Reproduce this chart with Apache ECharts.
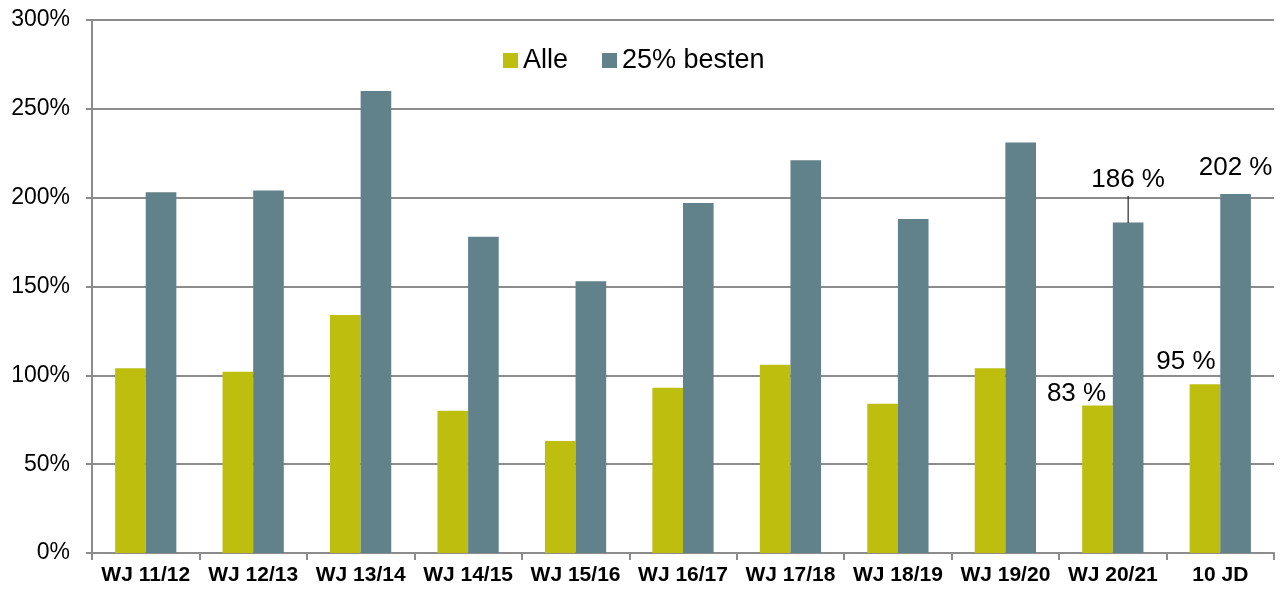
<!DOCTYPE html>
<html>
<head>
<meta charset="utf-8">
<script src="https://cdn.jsdelivr.net/npm/echarts@6/dist/echarts.min.js"></script>
<style>
  html, body { margin: 0; padding: 0; background: #fff; }
  #main { width: 1282px; height: 590px; }
</style>
</head>
<body>
<div id="main"></div>
<script>
// data
var categories = ['WJ 11/12', 'WJ 12/13', 'WJ 13/14', 'WJ 14/15', 'WJ 15/16', 'WJ 16/17', 'WJ 17/18', 'WJ 18/19', 'WJ 19/20', 'WJ 20/21', '10 JD'];
var alle = [104, 102, 134, 80, 63, 93, 106, 84, 104, 83, 95];
var besten = [203, 204, 260, 178, 153, 197, 221, 188, 231, 186, 202];
var seriesNames = ['Alle', '25% besten'];
var yTicks = [0, 50, 100, 150, 200, 250, 300];

var font = "'Liberation Sans', Arial, sans-serif";
var colAlle = '#bdbe0d';
var colBesten = '#61828a';
var gridCol = '#8c8c8c';

function labelStyle(extra) {
  var base = {
    show: true,
    position: 'top',
    fontFamily: font,
    fontSize: 26,
    color: '#000',
    formatter: function (p) { return p.value + ' %'; }
  };
  for (var k in extra) base[k] = extra[k];
  return base;
}

// only the last two categories carry labels
var alleData = alle.map(function (v, i) {
  if (i === 9) return { value: v, label: labelStyle({ offset: [-21, 6] }) };
  if (i === 10) return { value: v, label: labelStyle({ offset: [-19, -4] }) };
  return v;
});
var bestenData = besten.map(function (v, i) {
  if (i === 9) {
    // label with a short leader line under it
    return {
      value: v,
      label: labelStyle({
        distance: -1,
        formatter: function (p) { return '{t|' + p.value + ' %}\n{l|}'; },
        rich: {
          t: { fontFamily: font, fontSize: 26, color: '#000', lineHeight: 32 },
          l: { width: 1, height: 27, lineHeight: 28, backgroundColor: '#000' }
        }
      })
    };
  }
  if (i === 10) return { value: v, label: labelStyle({ offset: [0, -8] }) };
  return v;
});

var chart = echarts.init(document.getElementById('main'));
var option = {
  backgroundColor: '#fff',
  animation: false,
  textStyle: { fontFamily: font },
  grid: { left: 92, right: 8, top: 20, bottom: 37, containLabel: false },
  legend: {
    data: seriesNames,
    left: 498,
    top: 42,
    itemWidth: 15,
    itemHeight: 15,
    itemGap: 34,
    icon: 'rect',
    textStyle: { fontFamily: font, fontSize: 27, color: '#000' }
  },
  xAxis: {
    type: 'category',
    data: categories,
    axisLine: { lineStyle: { color: gridCol, width: 2 } },
    axisTick: { show: true, length: 7, lineStyle: { color: gridCol, width: 2 } },
    axisLabel: { interval: 0, fontFamily: font, fontSize: 21, fontWeight: 'bold', color: '#000', margin: 12 }
  },
  yAxis: {
    type: 'value',
    min: yTicks[0],
    max: yTicks[yTicks.length - 1],
    interval: 50,
    axisLine: { show: true, lineStyle: { color: gridCol, width: 2 } },
    axisTick: { show: true, length: 6, lineStyle: { color: gridCol, width: 2 } },
    splitLine: { lineStyle: { color: gridCol, width: 2 } },
    axisLabel: {
      fontFamily: font, fontSize: 23, color: '#000', margin: 22,
      formatter: function (v) { return v + '%'; }
    }
  },
  series: [
    {
      name: seriesNames[0],
      type: 'bar',
      data: alleData,
      barGap: '0%',
      barCategoryGap: '43%',
      itemStyle: { color: colAlle }
    },
    {
      name: seriesNames[1],
      type: 'bar',
      data: bestenData,
      barGap: '0%',
      barCategoryGap: '43%',
      itemStyle: { color: colBesten }
    }
  ]
};
option && chart.setOption(option);
</script>
</body>
</html>
